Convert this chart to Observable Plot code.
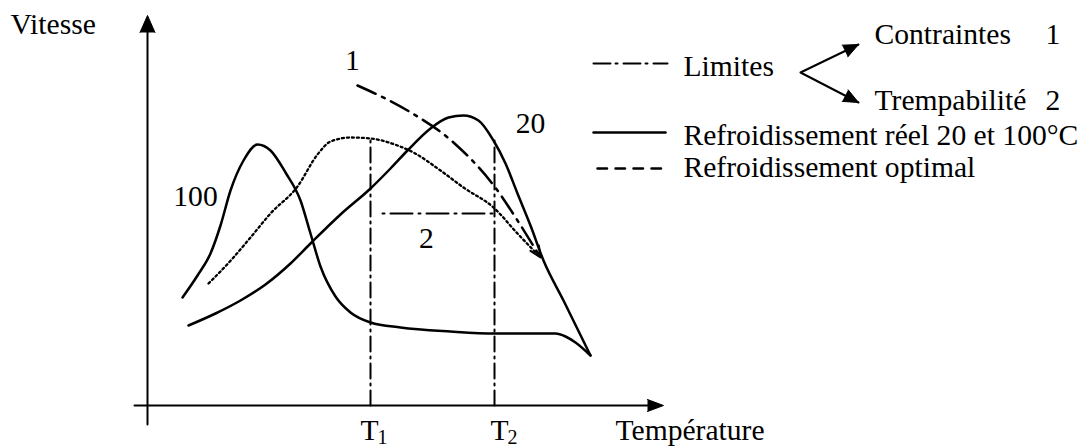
<!DOCTYPE html>
<html><head><meta charset="utf-8">
<script src="https://cdn.jsdelivr.net/npm/d3@7"></script>
<script src="https://cdn.jsdelivr.net/npm/@observablehq/plot@0.6"></script>
<style>body{margin:0;background:#fff}#chart svg{display:block}#chart text{font-family:"Liberation Serif","Times New Roman",serif}</style>
</head><body><div id="chart"></div>
<script>
// Schematic units: T = température (origin at the axes crossing), V = vitesse
const curve100 = [[34,108],[49,130],[62,152],[72,180],[82,215],[95,245],[109,261],[122,255],[137,233],[152,205],[162,172],[172,139],[187,109],[202,93],[222,83],[252,78],[302,74],[346,72],[392,72],[407,72],[417,69],[427,63],[442,50]];
const curve20 = [[40,80],[67,92],[92,105],[117,121],[142,142],[162,162],[192,191],[222,217],[242,237],[259,255],[282,277],[300,288],[315,290],[330,285],[345,265],[357,242],[369,212],[382,180],[395,145],[415,105],[442,50]];
const optimal = [[60,122],[85,148],[102,168],[122,192],[149,219],[169,251],[182,264],[202,268],[222,267],[249,260],[265,253],[292,235],[315,218],[345,198],[369,172],[392,148]];
const limit1 = [[209,320],[259,295],[305,263],[349,215],[369,185],[392,148]];
const T1 = 222, T2 = 346;
const T1top = 267, T2top = 265;
const limit2V = 192, limit2Start = 234;
const curveLabels = [
  {label:"1", T:204, V:345},
  {label:"20", T:382, V:282},
  {label:"100", T:47, V:209},
  {label:"2", T:278, V:167}
];
const tickLabels = [{label:"T", sub:"1", T:212}, {label:"T", sub:"2", T:342}];
const legendItems = [
  {label:"Limites", V:339},
  {label:"Refroidissement réel 20 et 100°C", V:270},
  {label:"Refroidissement optimal", V:238}
];
const limitKinds = [{label:"Contraintes", num:"1", V:371}, {label:"Trempabilité", num:"2", V:305}];

// layout helpers
function head(tip, from, len, half) {
  const dx = tip[0]-from[0], dy = tip[1]-from[1], n = Math.hypot(dx, dy);
  const ux = dx/n, uy = dy/n, bx = tip[0]-ux*len, by = tip[1]-uy*len;
  return [[bx - uy*half, by + ux*half], tip, [bx + uy*half, by - ux*half]];
}
const yAxisTip = [-1, 390], xAxisTip = [515, 0];
const legVertex = [652, 333], legUp = [710, 361], legDown = [710, 303];
const font = 29.6;
const serif = "Liberation Serif";
const txt = {fontSize: font, fill: "black", fontFamily: serif};

const chart = Plot.plot({
  width: 1081, height: 447, margin: 0,
  x: {domain: [-148, 933], axis: null},
  y: {domain: [-42, 405], axis: null},
  style: {background: "white", color: "black"},
  marks: [
    // axes
    Plot.line([[-1,-19],[-1,376]], {stroke:"black", strokeWidth:2}),
    Plot.line([[-14,0],[501,0]], {stroke:"black", strokeWidth:2}),
    Plot.line(head(yAxisTip, [-1,0], 17, 7.5), {fill:"black", stroke:"black", strokeWidth:1}),
    Plot.line(head(xAxisTip, [0,0], 16, 6), {fill:"black", stroke:"black", strokeWidth:1}),
    // T1 / T2 guides and limit 2
    Plot.line([[T1,0],[T1,T1top]], {stroke:"black", strokeWidth:2, strokeDasharray:"15 5 2 5"}),
    Plot.line([[T2,0],[T2,T2top]], {stroke:"black", strokeWidth:2, strokeDasharray:"15 5 2 5"}),
    Plot.line([[limit2Start,limit2V],[T2,limit2V]], {stroke:"black", strokeWidth:2, strokeDasharray:"2 6 22 6"}),
    // curves
    Plot.line(curve100, {curve:"monotone-x", stroke:"black", strokeWidth:2.5}),
    Plot.line(curve20, {curve:"monotone-x", stroke:"black", strokeWidth:2.5}),
    Plot.line(optimal, {curve:"monotone-x", stroke:"black", strokeWidth:2.3, strokeDasharray:"2 3"}),
    Plot.line(limit1, {curve:"monotone-x", stroke:"black", strokeWidth:2.5, strokeDasharray:"20 7 3 7"}),
    Plot.line(head(limit1[limit1.length-1], limit1[limit1.length-2], 11, 5), {stroke:"black", strokeWidth:2}),
    // curve labels
    Plot.text(curveLabels, {x:"T", y:"V", text:"label", ...txt}),
    Plot.text(tickLabels, {x:"T", y:-25, text:"label", textAnchor:"start", ...txt}),
    Plot.text(tickLabels, {x: d => d.T + 17, y:-32, text:"sub", textAnchor:"start", ...txt, fontSize:20}),
    Plot.text(["Vitesse"], {x:-138, y:381, text: d => d, textAnchor:"start", ...txt}),
    Plot.text(["Température"], {x:467, y:-25, text: d => d, textAnchor:"start", ...txt}),
    // legend
    Plot.line([[445,342],[519,342]], {stroke:"black", strokeWidth:2, strokeDasharray:"17 5 2 6"}),
    Plot.line([[445,273],[517,273]], {stroke:"black", strokeWidth:2.5}),
    Plot.line([[449,237],[514,237]], {stroke:"black", strokeWidth:2.5, strokeDasharray:"9.5 8.5"}),
    Plot.text(legendItems, {x:535, y:"V", text:"label", textAnchor:"start", ...txt}),
    Plot.line([legUp, legVertex, legDown], {stroke:"black", strokeWidth:2}),
    Plot.line(head(legUp, legVertex, 15, 6.5), {fill:"black", stroke:"black", strokeWidth:1}),
    Plot.line(head(legDown, legVertex, 15, 6.5), {fill:"black", stroke:"black", strokeWidth:1}),
    Plot.text(limitKinds, {x:726, y:"V", text:"label", textAnchor:"start", ...txt}),
    Plot.text(limitKinds, {x:897, y:"V", text:"num", textAnchor:"start", ...txt})
  ]
});
document.getElementById("chart").append(chart);
</script></body></html>
